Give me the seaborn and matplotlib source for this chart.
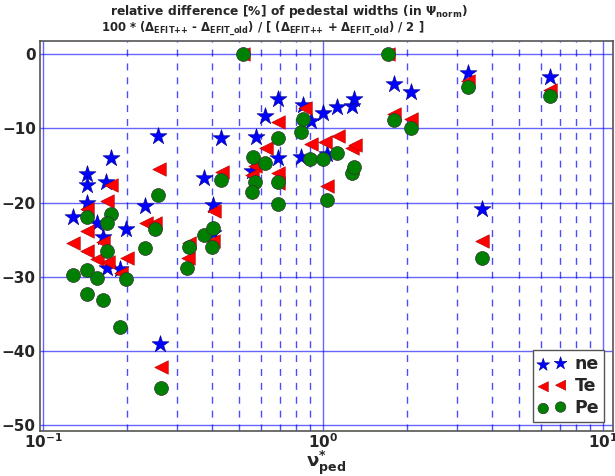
import pandas as pd
import seaborn as sns
import matplotlib.pyplot as plt
from matplotlib.ticker import LogLocator, NullFormatter

# nu*_ped and relative differences (%)
ne_nu = [0.128, 0.144, 0.144, 0.144, 0.156, 0.164, 0.1745, 0.168, 0.169, 0.188,
         0.198, 0.232, 0.258, 0.262, 0.376, 0.405, 0.404, 0.432, 0.556, 0.575,
         0.621, 0.689, 0.689, 0.837, 0.850, 0.906, 1.003, 1.03, 1.125, 1.266,
         1.293, 1.798, 2.06, 3.29, 3.69, 6.47]
ne_diff = [-21.9, -16.2, -17.6, -20.0, -22.7, -24.7, -14.0, -17.2, -28.8, -29.0,
           -23.5, -20.4, -11.1, -39.1, -16.7, -20.3, -24.1, -11.35, -15.7, -11.2,
           -8.35, -6.1, -14.0, -13.8, -6.8, -9.0, -8.0, -13.4, -7.2, -7.0,
           -6.0, -4.1, -5.1, -2.6, -20.8, -3.05]

te_nu = [0.128, 0.144, 0.144, 0.144, 0.156, 0.164, 0.175, 0.169, 0.170, 0.190,
         0.199, 0.233, 0.251, 0.2595, 0.263, 0.333, 0.330, 0.408, 0.404, 0.435,
         0.519, 0.57, 0.556, 0.624, 0.69, 0.69, 0.69, 0.86, 0.906, 1.017,
         1.036, 1.134, 1.266, 1.30, 1.711, 1.80, 2.07, 3.29, 3.70, 6.47]
te_diff = [-25.4, -20.9, -23.8, -26.5, -27.6, -25.3, -17.7, -19.8, -27.95, -29.5,
           -27.5, -22.7, -22.7, -15.5, -42.2, -25.4, -27.4, -21.1, -25.2, -15.9,
           0.0, -15.1, -16.3, -12.7, -9.2, -16.0, -17.4, -7.3, -12.1, -11.9,
           -17.8, -11.1, -12.6, -12.25, 0.0, -8.1, -8.75, -3.7, -25.2, -4.85]

pe_nu = [0.1276, 0.144, 0.144, 0.144, 0.1556, 0.164, 0.1745, 0.169, 0.169, 0.189,
         0.198, 0.232, 0.251, 0.258, 0.263, 0.333, 0.328, 0.376, 0.405, 0.40,
         0.432, 0.519, 0.563, 0.57, 0.556, 0.621, 0.689, 0.689, 0.689, 0.837,
         0.85, 0.899, 1.003, 1.03, 1.125, 1.27, 1.293, 1.711, 1.798, 2.06,
         3.29, 3.69, 6.47]
pe_diff = [-29.7, -22.0, -29.1, -32.3, -30.2, -33.1, -21.5, -22.8, -26.5, -36.8,
           -30.3, -26.1, -23.5, -19.0, -44.9, -26.0, -28.8, -24.4, -23.4, -26.0,
           -16.9, 0.0, -13.8, -17.2, -18.6, -14.7, -11.35, -17.2, -20.2, -10.5,
           -8.8, -14.2, -14.1, -19.65, -13.3, -16.0, -15.25, 0.0, -8.9, -9.9,
           -4.4, -27.5, -5.65]

title1 = "relative difference [%] of pedestal widths (in $\\Psi_{norm}$)"
title2 = ("100 * ($\\Delta_{EFIT{+}{+}}$ - $\\Delta_{EFIT\\_old}$) / "
          "[ ($\\Delta_{EFIT{+}{+}}$ + $\\Delta_{EFIT\\_old}$) / 2 ]")

sns.set_style("white")
plt.rcParams["mathtext.default"] = "bf"
plt.rcParams["font.weight"] = "bold"

fig = plt.figure(figsize=(6.15, 4.76), dpi=100)
ax = fig.add_axes([40 / 615, 1 - 431 / 476, 573 / 615, 390 / 476])

ne = pd.DataFrame({"nu": ne_nu, "diff": ne_diff})
te = pd.DataFrame({"nu": te_nu, "diff": te_diff})
pe = pd.DataFrame({"nu": pe_nu, "diff": pe_diff})

sns.scatterplot(data=ne, x="nu", y="diff", marker="*", s=165, color="blue",
                edgecolor="#000080", linewidth=0.4, label="ne", ax=ax, zorder=3)
sns.scatterplot(data=te, x="nu", y="diff", marker="<", s=95, color="red",
                edgecolor="#aa0000", linewidth=0.4, label="Te", ax=ax, zorder=4)
sns.scatterplot(data=pe, x="nu", y="diff", marker="o", s=100, color="green",
                edgecolor="#333333", linewidth=0.5, label="Pe", ax=ax, zorder=5)

ax.set_xscale("log")
ax.set_xlim(10 ** (-1 - 3 / 280), 10 ** (1 + 10 / 280))
ax.set_ylim(-50.75, 1.75)
ax.set_yticks([0, -10, -20, -30, -40, -50])
ax.xaxis.set_minor_locator(LogLocator(base=10, subs=range(2, 10)))
ax.xaxis.set_minor_formatter(NullFormatter())

ax.grid(True, which="major", color="blue", alpha=0.6, linewidth=1, linestyle="-")
ax.grid(True, which="minor", axis="x", color="blue", alpha=0.7, linewidth=1,
        linestyle=(0, (5, 5)))
ax.set_axisbelow(True)
for sp in ax.spines.values():
    sp.set_color("#555555")
    sp.set_linewidth(1.2)

ax.tick_params(axis="both", which="both", length=0, labelsize=11)
ax.tick_params(axis="x", pad=1)
ax.tick_params(axis="y", pad=3)
for lab in ax.get_xticklabels() + ax.get_yticklabels():
    lab.set_fontweight("bold")

ax.set_xlabel(r"$\nu^{*}_{\mathrm{ped}}$", fontsize=13, labelpad=-2)
ax.set_ylabel("")

# two title lines, placed like the original
fig.text(289 / 615, 1 - 12 / 476, title1, ha="center", va="center",
         fontsize=8.8, fontweight="bold")
fig.text(263 / 615, 1 - 29 / 476, title2, ha="center", va="center",
         fontsize=8.4, fontweight="bold")

ax.legend(loc="lower right", numpoints=2, scatterpoints=2, fancybox=False,
          framealpha=1, edgecolor="#555555", prop={"weight": "bold", "size": 12.5},
          handletextpad=0.5, borderpad=0.3, labelspacing=0.22, markerscale=0.75,
          borderaxespad=0.5, handlelength=1.6)

fig.savefig("out.png", dpi=100)
